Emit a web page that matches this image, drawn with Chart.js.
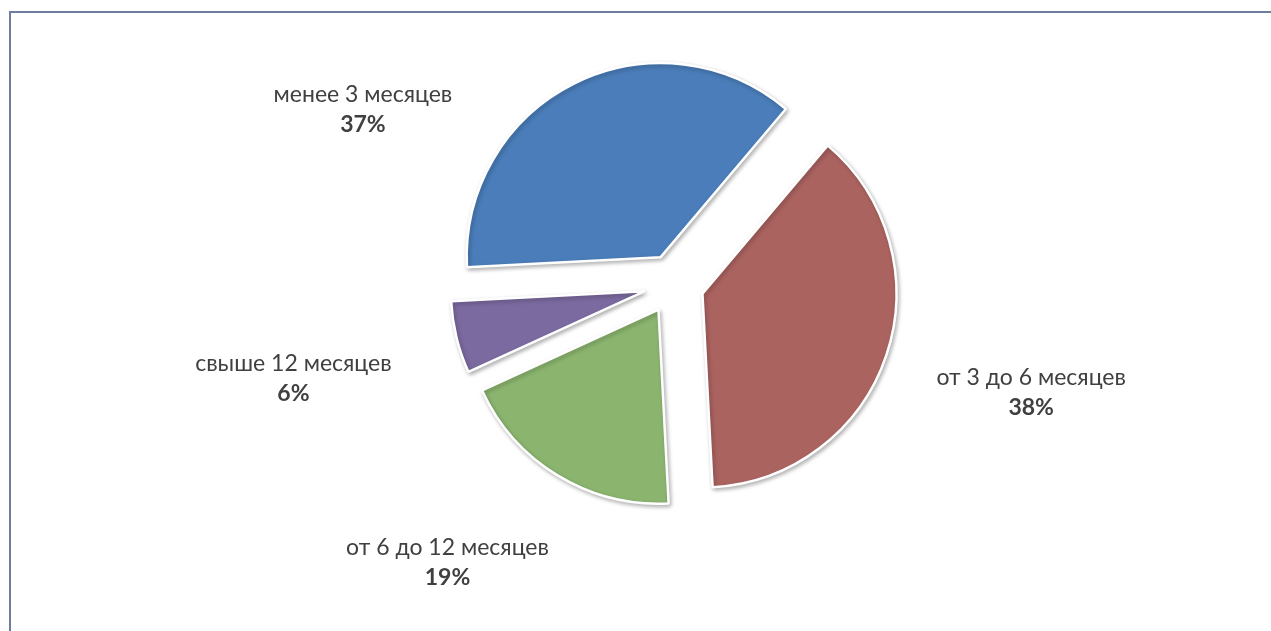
<!DOCTYPE html>
<html lang="ru">
<head>
<meta charset="utf-8">
<title>Срок</title>
<script src="https://cdn.jsdelivr.net/npm/chart.js@4.4.1/dist/chart.umd.min.js"></script>
<style>
  html, body { margin: 0; padding: 0; background: #fff; }
  #wrap { position: relative; width: 1271px; height: 631px; overflow: hidden; }
  #frame { position: absolute; left: 9px; top: 11px; width: 1300px; height: 700px;
           border-left: 2px solid #6f7d9e; border-top: 2px solid #6f7d9e; }
  canvas { position: absolute; left: 0; top: 0; }
</style>
</head>
<body>
<div id="wrap">
  <div id="frame"></div>
  <canvas id="chart-srok" width="1271" height="631"></canvas>
</div>
<script>
// --- DATOS ---
const categorias = ['менее 3 месяцев', 'от 3 до 6 месяцев', 'от 6 до 12 месяцев', 'свыше 12 месяцев'];
const porcentajes = [37, 38, 19, 6];
const colores = ['#4a7db9', '#ab6360', '#8bb56f', '#7b6aa0'];

// desplazamiento de cada sector hacia fuera (px)
const EXPLODE = 30;
// posición de etiquetas: distancia desde el centro y ajuste fino por sector
const LABEL_DIST = 360;
const labelShift = [[-151, 148], [16, -6], [-40, -29], [-31, 9]];

// separa los sectores moviendo el centro de cada arco (sin agrandar el radio)
const explodePlugin = {
    id: 'explode',
    afterDatasetUpdate(chart, args) {
        const meta = chart.getDatasetMeta(args.index);
        meta.data.forEach(arc => {
            const mid = (arc.startAngle + arc.endAngle) / 2;
            arc.$cx = arc.x;
            arc.$cy = arc.y;
            arc.x += Math.cos(mid) * EXPLODE;
            arc.y += Math.sin(mid) * EXPLODE;
        });
    }
};

// sombra suave bajo los sectores
const shadowPlugin = {
    id: 'shadow',
    beforeDatasetDraw(chart) {
        const ctx = chart.ctx;
        ctx.save();
        ctx.shadowColor = 'rgba(0,0,0,0.28)';
        ctx.shadowBlur = 4;
        ctx.shadowOffsetX = 1.5;
        ctx.shadowOffsetY = 2;
    },
    afterDatasetDraw(chart) {
        chart.ctx.restore();
    }
};

// etiquetas: categoría + porcentaje en negrita
const labelsPlugin = {
    id: 'labels',
    afterDatasetsDraw(chart) {
        const ctx = chart.ctx;
        const data = chart.data.datasets[0].data;
        const total = data.reduce((a, b) => a + b, 0);
        const meta = chart.getDatasetMeta(0);
        ctx.save();
        ctx.fillStyle = '#404040';
        ctx.textAlign = 'center';
        ctx.textBaseline = 'middle';
        meta.data.forEach((arc, i) => {
            const mid = (arc.startAngle + arc.endAngle) / 2;
            const x = arc.$cx + Math.cos(mid) * LABEL_DIST + labelShift[i][0];
            const y = arc.$cy + Math.sin(mid) * LABEL_DIST + labelShift[i][1];
            ctx.font = '23px Lato, "Open Sans", sans-serif';
            ctx.fillText(chart.data.labels[i], x, y - 15);
            ctx.font = 'bold 23px Lato, "Open Sans", sans-serif';
            ctx.fillText(Math.round(data[i] / total * 100) + '%', x, y + 15);
        });
        ctx.restore();
    }
};

const ctx = document.getElementById('chart-srok').getContext('2d');
new Chart(ctx, {
    type: 'pie',
    data: {
        labels: categorias,
        datasets: [{
            data: porcentajes,
            backgroundColor: colores,
            borderColor: '#ffffff',
            borderWidth: 2.5
        }]
    },
    options: {
        responsive: false,
        animation: false,
        rotation: -93,
        radius: 194,
        layout: { padding: { left: 77, right: 0, top: 0, bottom: 63 } },
        events: [],
        plugins: {
            legend: { display: false },
            tooltip: { enabled: false }
        }
    },
    plugins: [explodePlugin, shadowPlugin, labelsPlugin]
});
</script>
</body>
</html>
